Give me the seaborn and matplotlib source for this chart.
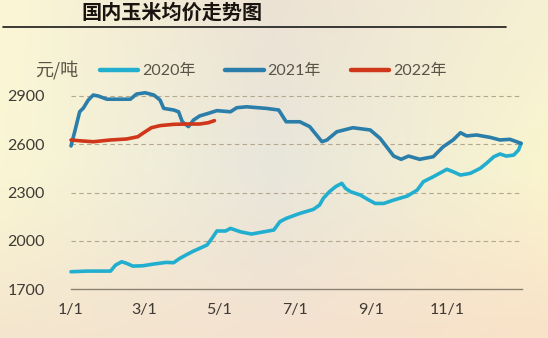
import numpy as np
import pandas as pd
import matplotlib
matplotlib.use("Agg")
import matplotlib.pyplot as plt
import seaborn as sns
from matplotlib.lines import Line2D

# Day of year (0 = Jan 1) and average corn price, yuan per ton
days_2020 = [0, 13, 32, 36, 41, 45, 50, 58, 67, 77, 83, 88, 94, 99, 104, 110, 114, 118,
             125, 129, 137, 146, 156, 164, 169, 174, 185, 196, 201, 204, 209, 214, 219,
             222, 226, 234, 240, 246, 253, 261, 272, 280, 285, 293, 304, 309, 315, 323,
             331, 336, 342, 347, 352, 358, 362, 364]
price_2020 = [1809, 1813, 1813, 1850, 1871, 1861, 1844, 1846, 1857, 1867, 1865, 1892,
              1917, 1937, 1954, 1975, 2016, 2062, 2062, 2078, 2057, 2043, 2057, 2068,
              2120, 2140, 2171, 2196, 2223, 2264, 2306, 2337, 2358, 2327, 2306, 2285,
              2258, 2233, 2233, 2254, 2279, 2316, 2368, 2399, 2445, 2430, 2409, 2420,
              2451, 2482, 2523, 2540, 2527, 2533, 2565, 2606]

days_2021 = [0, 3, 7, 10, 14, 18, 22, 29, 37, 48, 53, 60, 67, 72, 75, 83, 87, 90, 95,
             99, 104, 111, 118, 129, 134, 142, 158, 168, 174, 185, 193, 203, 207, 215,
             228, 242, 250, 261, 267, 273, 282, 293, 301, 309, 315, 320, 328, 339, 347,
             355, 364]
price_2021 = [2590, 2678, 2802, 2825, 2875, 2906, 2900, 2880, 2880, 2880, 2912, 2920,
              2906, 2875, 2823, 2813, 2802, 2740, 2710, 2750, 2776, 2792, 2809, 2802,
              2827, 2833, 2823, 2813, 2740, 2740, 2710, 2616, 2627, 2678, 2703, 2689,
              2637, 2527, 2507, 2527, 2507, 2523, 2585, 2627, 2672, 2652, 2658, 2643,
              2627, 2631, 2606]

days_2022 = [0, 7, 18, 32, 45, 54, 58, 65, 72, 83, 94, 104, 111, 116]
price_2022 = [2627, 2622, 2616, 2627, 2633, 2647, 2668, 2703, 2716, 2724, 2726, 2726,
              2734, 2747]

series_names = ["2020年", "2021年", "2022年"]
series_colors = ["#22afcf", "#2a7ea9", "#d0361a"]

tick_days = [0, 59, 120, 181, 243, 304, 365]
tick_labels = ["1/1", "3/1", "5/1", "7/1", "9/1", "11/1", ""]
y_ticks = [1700, 2000, 2300, 2600, 2900]

frames = []
for name, d, p in zip(series_names, [days_2020, days_2021, days_2022],
                      [price_2020, price_2021, price_2022]):
    frames.append(pd.DataFrame({"day": d, "price": p, "year": name}))
df = pd.concat(frames, ignore_index=True)

sns.set_theme(style="white")
plt.rcParams["font.family"] = ["Lato", "Noto Sans CJK SC", "DejaVu Sans"]

W, H = 548, 338
fig = plt.figure(figsize=(W / 100, H / 100), dpi=100)

# soft warm background wash
bg = fig.add_axes([0, 0, 1, 1], zorder=-10)
corners = np.array([
    [[251, 247, 214], [236, 226, 212], [246, 240, 212]],
    [[250, 246, 212], [232, 230, 220], [250, 245, 206]],
    [[244, 230, 206], [244, 226, 208], [249, 226, 200]],
], dtype=float) / 255.0
ny, nx = 120, 200
yy = np.linspace(0, 2, ny)[:, None]
xx = np.linspace(0, 2, nx)[None, :]
img = np.zeros((ny, nx, 3))
for c in range(3):
    g = corners[:, :, c]
    iy = np.clip(np.floor(yy).astype(int), 0, 1)
    ix = np.clip(np.floor(xx).astype(int), 0, 1)
    fy = yy - iy
    fx = xx - ix
    img[:, :, c] = (g[iy, ix] * (1 - fy) * (1 - fx) + g[iy, ix + 1] * (1 - fy) * fx
                    + g[iy + 1, ix] * fy * (1 - fx) + g[iy + 1, ix + 1] * fy * fx)
bg.imshow(img, aspect="auto", extent=[0, 1, 0, 1], interpolation="bilinear")
bg.set_axis_off()

ax = fig.add_axes([71 / W, 1 - 289.3 / H, (522.3 - 71) / W, (289.3 - 86) / H])
ax.patch.set_alpha(0)

sns.lineplot(data=df, x="day", y="price", hue="year", palette=series_colors,
             hue_order=series_names, estimator=None, sort=False, lw=2.6,
             ax=ax, legend=False, zorder=3)
for ln in ax.lines:
    ln.set_solid_capstyle("round")
    ln.set_solid_joinstyle("round")
    ln.set_clip_on(False)

ax.set_xlim(0, 365)
ax.set_ylim(1700, 2962)
ax.set_xticks(tick_days)
ax.set_xticklabels(tick_labels)
ax.set_yticks(y_ticks)
ax.set_xlabel("")
ax.set_ylabel("")
for v in y_ticks[1:]:
    ax.axhline(v, color="#b3a88f", lw=0.8, ls=(0, (4, 3)), zorder=1)

for s in ["top", "right", "left"]:
    ax.spines[s].set_visible(False)
ax.spines["bottom"].set_color("#8c8272")
ax.spines["bottom"].set_linewidth(1.0)
ax.tick_params(axis="x", direction="out", length=5, width=1.0, color="#8c8272",
               colors="#3f3a34", labelsize=11.5, pad=5)
ax.tick_params(axis="y", length=0, colors="#3f3a34", labelsize=11.5, pad=19)
for lab in ax.get_xticklabels() + ax.get_yticklabels():
    lab.set_color("#3f3a34")

# legend row
handles = [Line2D([0], [0], color=c, lw=3.2) for c in series_colors]
leg = fig.legend(handles, series_names, ncol=3, frameon=False,
                 loc="center left", bbox_to_anchor=(100 / W, 1 - 71 / H),
                 borderpad=0, borderaxespad=0,
                 handlelength=2.4, handletextpad=0.25, columnspacing=1.85,
                 prop={"size": 11.5})
for t in leg.get_texts():
    t.set_color("#5b5347")
fig.text(35 / W, 1 - 70 / H, "元/吨", fontsize=13, color="#5b5347",
         va="center", ha="left", family=["Noto Sans CJK SC", "DejaVu Sans"])

# heading and rule beneath it
fig.text(172 / W, 1 - 12 / H, "国内玉米均价走势图", fontsize=14.5, fontweight="heavy",
         color="#1a1410", ha="center", va="center",
         family=["Noto Sans CJK SC", "DejaVu Sans"])
fig.add_artist(Line2D([3 / W, 506 / W], [1 - 27 / H, 1 - 27 / H], color="#1a1a1a",
                      lw=1.2, transform=fig.transFigure))

fig.savefig("out.png", dpi=100)
